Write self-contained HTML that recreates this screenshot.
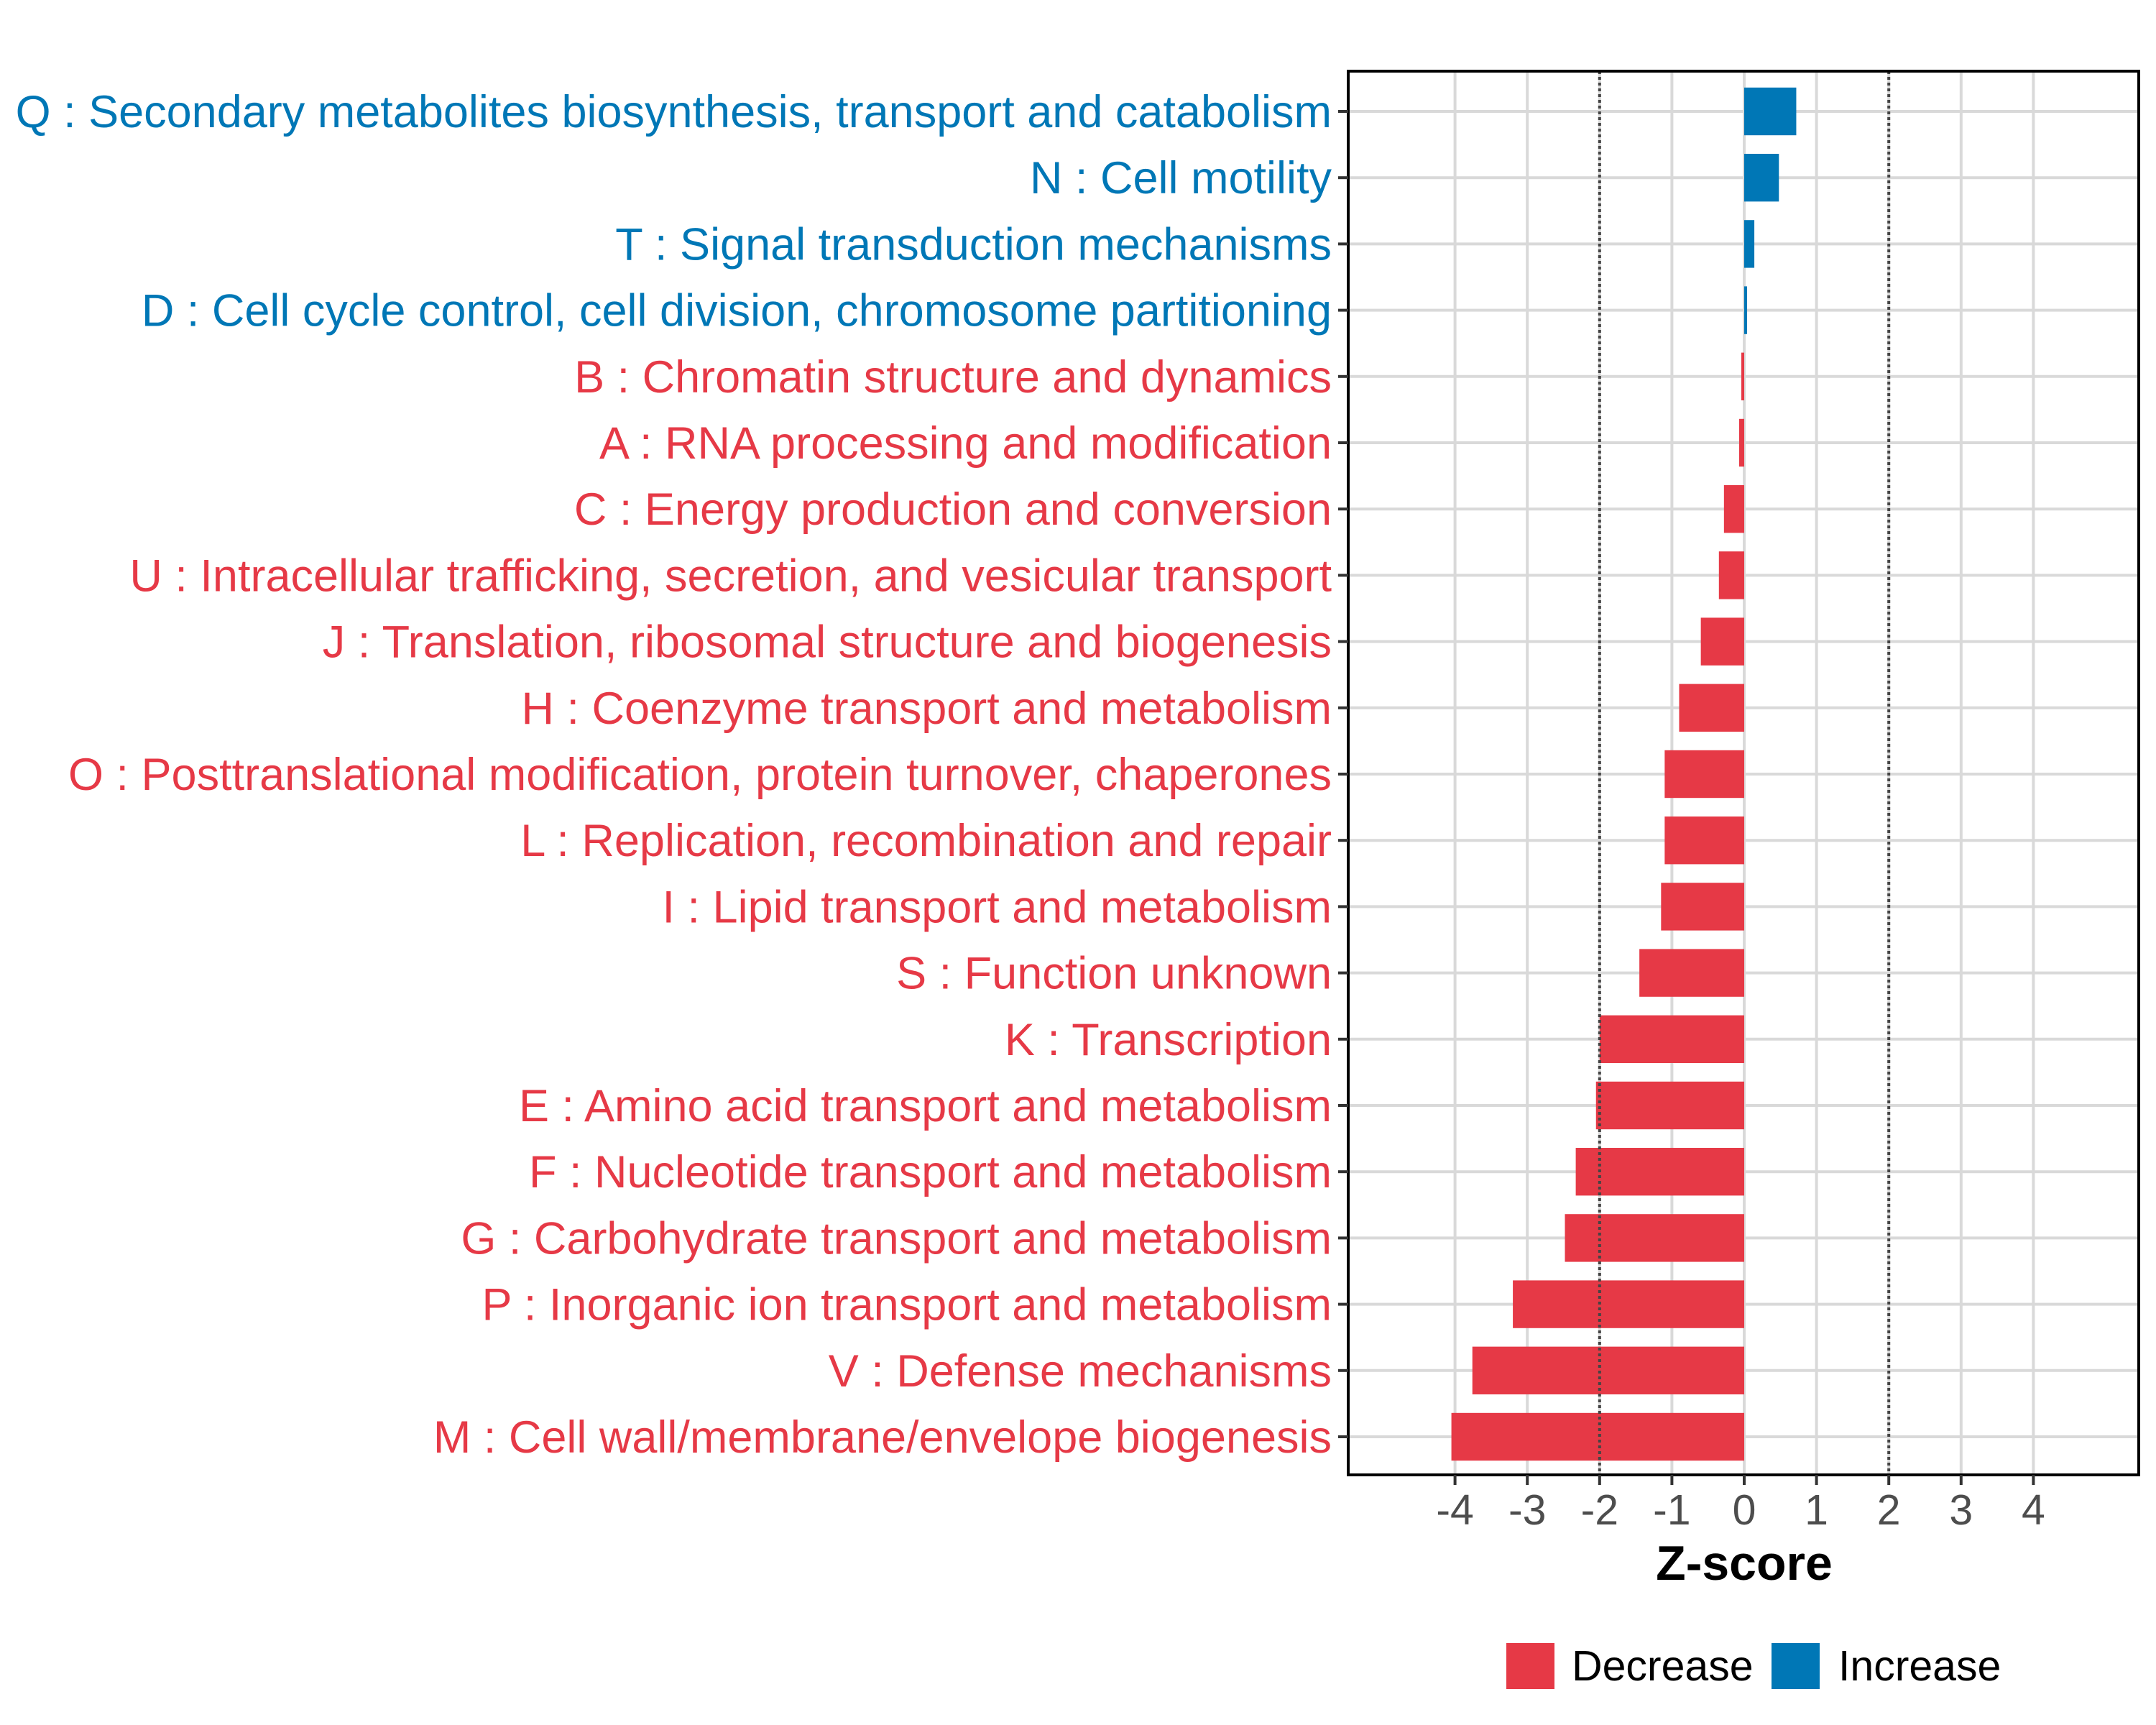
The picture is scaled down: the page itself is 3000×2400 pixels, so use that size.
<!DOCTYPE html>
<html><head><meta charset="utf-8"><style>
html,body{margin:0;padding:0;background:#fff;}
svg{display:block;font-family:"Liberation Sans",Arial,sans-serif;}
</style></head><body>
<svg id="chart" width="3000" height="2400" viewBox="0 0 3000 2400" xmlns="http://www.w3.org/2000/svg">
<rect x="0" y="0" width="3000" height="2400" fill="#fff"/>
<g id="grid"></g>
<g id="bars"></g>
<g id="refs"></g>
<rect x="1876" y="99" width="1100" height="1953" fill="none" stroke="#000" stroke-width="4"/>
<g id="ylabels"></g>
<g id="xticks"></g>
<text x="2427" y="2198" text-anchor="middle" font-size="68" font-weight="bold" fill="#000">Z-score</text>
<g>
<rect x="2096" y="2286" width="67" height="64" fill="#E63946"/>
<text x="2187" y="2338" font-size="59" fill="#000">Decrease</text>
<rect x="2465" y="2286" width="67" height="64" fill="#0077B6"/>
<text x="2558" y="2338" font-size="59" fill="#000">Increase</text>
</g>
</svg>
<script>
const categories = [
"Q : Secondary metabolites biosynthesis, transport and catabolism",
"N : Cell motility",
"T : Signal transduction mechanisms",
"D : Cell cycle control, cell division, chromosome partitioning",
"B : Chromatin structure and dynamics",
"A : RNA processing and modification",
"C : Energy production and conversion",
"U : Intracellular trafficking, secretion, and vesicular transport",
"J : Translation, ribosomal structure and biogenesis",
"H : Coenzyme transport and metabolism",
"O : Posttranslational modification, protein turnover, chaperones",
"L : Replication, recombination and repair",
"I : Lipid transport and metabolism",
"S : Function unknown",
"K : Transcription",
"E : Amino acid transport and metabolism",
"F : Nucleotide transport and metabolism",
"G : Carbohydrate transport and metabolism",
"P : Inorganic ion transport and metabolism",
"V : Defense mechanisms",
"M : Cell wall/membrane/envelope biogenesis"];
const zscores = [0.72,0.48,0.14,0.04,-0.04,-0.07,-0.28,-0.35,-0.6,-0.9,-1.1,-1.1,-1.15,-1.45,-2.0,-2.05,-2.33,-2.48,-3.2,-3.76,-4.05];
const xTicks = [-4,-3,-2,-1,0,1,2,3,4];
const xTickLabels = ["-4","-3","-2","-1","0","1","2","3","4"];
const refLines = [-2,2];

const NS="http://www.w3.org/2000/svg";
const panelL=1876, panelR=2976, panelT=99, panelB=2052;
const x0=2427, unit=100.6;
function xScale(v){return x0+v*unit;}
const rowStep=(1999-155)/(categories.length-1);
function yScale(i){return 155+i*rowStep;}
const RED="#E63946", BLUE="#0077B6";
function mk(tag,attrs,parent){const e=document.createElementNS(NS,tag);for(const k in attrs)e.setAttribute(k,attrs[k]);parent.appendChild(e);return e;}
const grid=document.getElementById('grid'),bars=document.getElementById('bars'),refs=document.getElementById('refs'),yl=document.getElementById('ylabels'),xt=document.getElementById('xticks');
xTicks.forEach((t,i)=>{
  const l=mk('line',{x1:xScale(t),x2:xScale(t),y1:panelT,y2:panelB,stroke:"#d9d9d9","stroke-width":4},grid);
  
  
  const tk=mk('line',{x1:xScale(t),x2:xScale(t),y1:panelB,y2:panelB+14,stroke:"#333","stroke-width":4},xt);
  
  
  const tx=mk('text',{x:xScale(t),y:2121,"text-anchor":"middle","font-size":59,fill:"#4d4d4d"},xt);
  tx.textContent=xTickLabels[i];
  
  
});
categories.forEach((c,i)=>{
  const y=yScale(i);
  const g=mk('line',{x1:panelL,x2:panelR,y1:y,y2:y,stroke:"#d9d9d9","stroke-width":4},grid);
  
  
  const v=zscores[i], col=v>=0?BLUE:RED;
  const h=rowStep*0.72;
  const b=mk('rect',{x:Math.min(xScale(0),xScale(v)),y:y-h/2,width:Math.max(Math.abs(xScale(v)-xScale(0)),2),height:h,fill:col},bars);
  
  
  const tk=mk('line',{x1:panelL-14,x2:panelL,y1:y,y2:y,stroke:"#333","stroke-width":4},yl);
  
  
  const t=mk('text',{x:1853,y:y+22,"text-anchor":"end","font-size":63,fill:col},yl);
  t.textContent=c;
  
  
});
refLines.forEach(r=>{
  const l=mk('line',{x1:xScale(r),x2:xScale(r),y1:panelT,y2:panelB,stroke:"#444","stroke-width":4,"stroke-dasharray":"4 4"},refs);
  
  
});
</script>
</body></html>
